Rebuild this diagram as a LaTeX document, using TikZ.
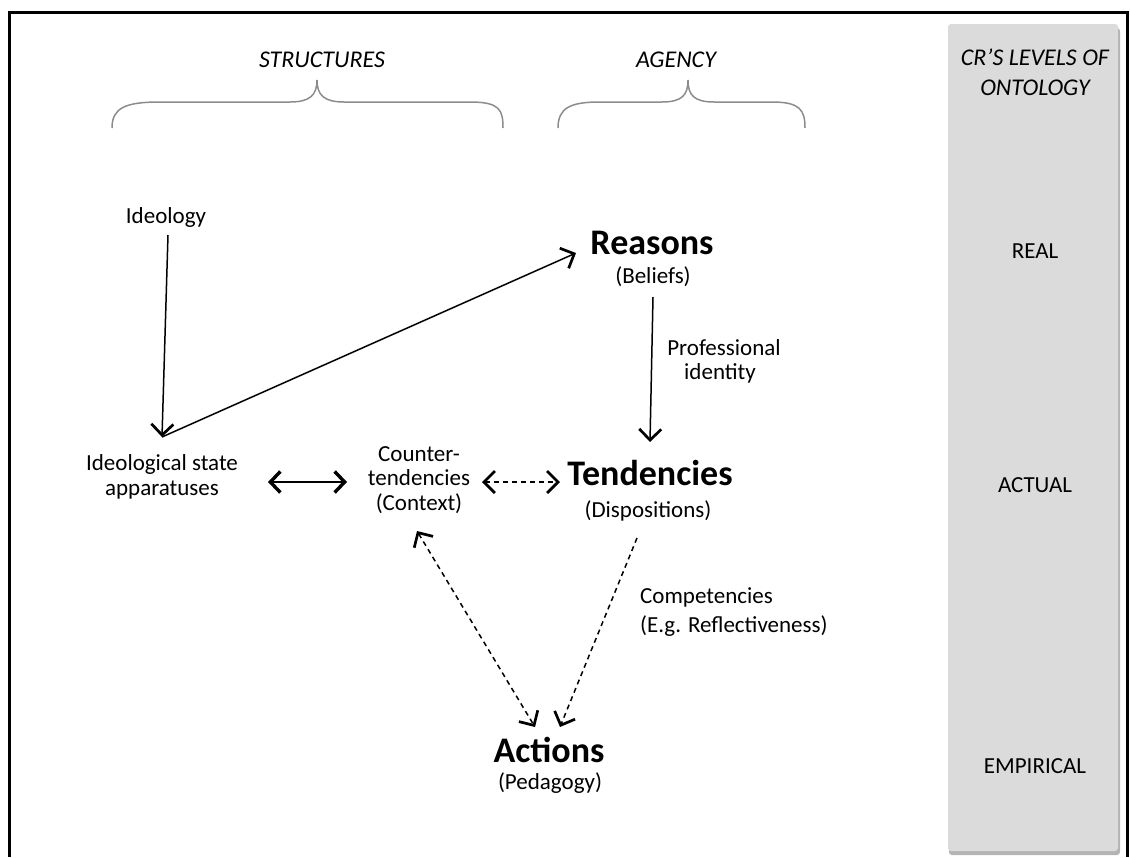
\documentclass[tikz,border=0pt]{standalone}
\usepackage{fontspec}
\setmainfont{Carlito}
\usetikzlibrary{arrows.meta}
\definecolor{panelgray}{HTML}{DBDBDB}
\definecolor{shadowgray}{HTML}{B4B4B4}
\definecolor{bracegray}{HTML}{8C8C8C}
\tikzset{
  barb/.tip={Straight Barb[length=11pt,width=22pt,line width=1.2pt 1]},
  boldbarb/.tip={Straight Barb[length=10pt,width=21pt,line width=1pt 1]}
}
\begin{document}
\begin{tikzpicture}[x=1pt,y=-1pt,
  txt/.style={font=\fontsize{23}{28}\selectfont, inner sep=0pt, anchor=base},
  hd/.style={font=\fontsize{24}{28}\selectfont\itshape, inner sep=0pt, anchor=base},
  big/.style={font=\fontsize{36}{40}\selectfont\bfseries, inner sep=0pt, anchor=base},
  arr/.style={line width=1.5pt, -{barb}},
  dbl/.style={line width=2.4pt, {boldbarb}-{boldbarb}},
  dsh/.style={line width=1.5pt, dash pattern=on 5pt off 4pt},
  brace/.style={draw=bracegray, line width=1.5pt}
]
\useasboundingbox (0,0) rectangle (1130,857);

% outer frame (open at the bottom)
\draw[line width=3pt] (9,857) -- (9,12) -- (1127,12) -- (1127,857);

% levels panel with its drop shadow
\fill[shadowgray, rounded corners=3pt] (949,28) rectangle (1120,855);
\fill[panelgray, rounded corners=3pt] (948,24) rectangle (1118,851);

% column headings
\node[hd] (structures) at (322,67) {STRUCTURES};
\node[hd] (agency) at (676,67) {AGENCY};
\node[hd] (cr1) at (1035,65) {CR’S LEVELS OF};
\node[hd] (cr2) at (1035,95) {ONTOLOGY};

% curly braces under the headings
\draw[brace] (112,128) .. controls (112,108) and (125,102) .. (160,102)
  -- (290,102) .. controls (310,102) and (317,95) .. (317,80)
  .. controls (317,95) and (324,102) .. (344,102)
  -- (470,102) .. controls (500,102) and (503,110) .. (503,128);
\draw[brace] (558,128) .. controls (558,108) and (570,102) .. (600,102)
  -- (662,102) .. controls (682,102) and (688,95) .. (688,80)
  .. controls (688,95) and (694,102) .. (714,102)
  -- (772,102) .. controls (800,102) and (805,110) .. (805,128);

% ontology levels
\node[txt] (real) at (1035,258) {REAL};
\node[txt] (actual) at (1035,492) {ACTUAL};
\node[txt] (empirical) at (1035,773) {EMPIRICAL};

% structures
\node[txt] (ideology) at (166,223) {Ideology};
\node[txt] (isa1) at (162,470) {Ideological state};
\node[txt] (isa2) at (162,495) {apparatuses};
\node[txt] (ct1) at (419,461) {Counter-};
\node[txt] (ct2) at (419,485) {tendencies};
\node[txt] (ct3) at (419,510) {(Context)};

% agency
\node[big] (reasons) at (652,254) {Reasons};
\node[txt] (beliefs) at (653,283) {(Beliefs)};
\node[txt] (prof1) at (724,355) {Professional};
\node[txt] (prof2) at (720,379) {identity};
\node[big] (tendencies) at (650,485) {Tendencies};
\node[txt] (dispositions) at (648,517) {(Dispositions)};
\node[txt, anchor=base west] (comp1) at (640,603) {Competencies};
\node[txt, anchor=base west] (comp2) at (640,632) {(E.g. Reflectiveness)};
\node[big] (actions) at (549,762) {Actions};
\node[txt] (pedagogy) at (550,789) {(Pedagogy)};

% connector end points
\coordinate (jn) at (162,437);
\coordinate (idtop) at (168,235);
\coordinate (reasonsin) at (576,253);
\coordinate (beliefsout) at (653,297);
\coordinate (tendin) at (650,442);
\coordinate (isaout) at (268,482);
\coordinate (ctin) at (347,482);
\coordinate (ctout) at (482,482);
\coordinate (tendleft) at (560,482);
\coordinate (ctbottom) at (417,531);
\coordinate (actin1) at (535,727);
\coordinate (tendbottom) at (637,538);
\coordinate (actin2) at (560,727);

% connectors
\draw[arr] (idtop) -- (jn);
\draw[arr] (jn) -- (reasonsin);
\draw[arr] (beliefsout) -- (tendin);
\draw[dbl] (isaout) -- (ctin);
\draw[dsh, {barb}-{barb}] (ctout) -- (tendleft);
\draw[dsh, {barb}-{barb}] (ctbottom) -- (actin1);
\draw[dsh, -{barb}] (tendbottom) -- (actin2);
\end{tikzpicture}
\end{document}
